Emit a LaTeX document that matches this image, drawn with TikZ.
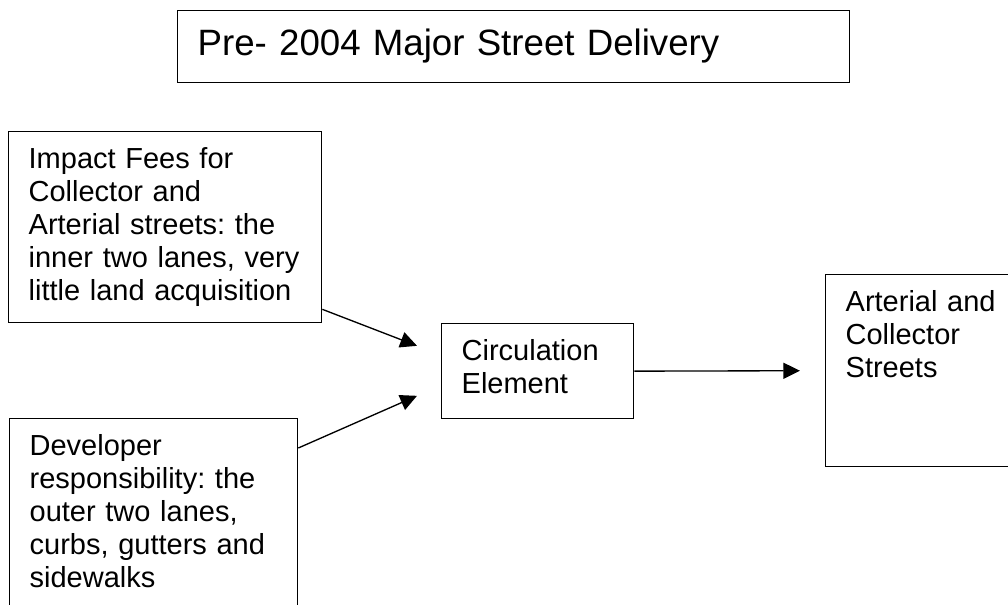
\documentclass[tikz,border=0pt]{standalone}
\usepackage{fontspec}
\setmainfont{Liberation Sans}
\usepackage{tikz}
\usetikzlibrary{arrows.meta}
\frenchspacing

\begin{document}
\begin{tikzpicture}[x=0.75pt,y=-0.75pt]
			\tikzstyle{every node}=[font=\fontsize{21.75pt}{24.75pt}\selectfont];
			\tikzstyle{box}=[draw, line width=1pt, anchor=north west, align=left, inner xsep=15pt, inner ysep=12pt, text height=15.75pt];
			\tikzstyle{link}=[line width=1pt, -{Triangle[length=12.5pt,width=12pt]}];
			
			\useasboundingbox (0,0) rectangle (1008,605);
			\clip (0,0) rectangle (1008,605);
			
			%Title
			\node[box, font=\fontsize{27.5pt}{31.6pt}\selectfont, text height=21.75pt, text depth=8.25pt, text width=474pt] (title) at (177,10) {Pre- 2004 Major Street Delivery};
			
			%Inputs
			\node[box, text width=204.75pt, text depth=103.5pt] (fees) at (8,131) {Impact Fees for\\Collector and\\Arterial streets: the\\inner two lanes, very\\little land acquisition};
			\node[box, text width=186pt, text depth=102.75pt] (dev) at (9,418) {Developer\\responsibility: the\\outer two lanes,\\curbs, gutters and\\sidewalks};
			
			%Middle and result
			\node[box, text width=114pt, text depth=31.5pt] (circ) at (441,323) {Circulation\\Element};
			\node[box, text width=165pt, text depth=104.25pt] (streets) at (825,274) {Arterial and\\Collector\\Streets};
			
			%Lines
			\coordinate (circup) at ([xshift=-18pt,yshift=19pt]circ.west);
			\coordinate (circdown) at ([xshift=-18pt,yshift=-18.5pt]circ.west);
			\draw[link] ([yshift=10.5pt]fees.south east) -- (circup);
			\draw[link] ([yshift=-22.5pt]dev.north east) -- (circdown);
			\draw[link, shorten >=18.75pt] (circ.east) -- (streets.west);
\end{tikzpicture}
\end{document}
